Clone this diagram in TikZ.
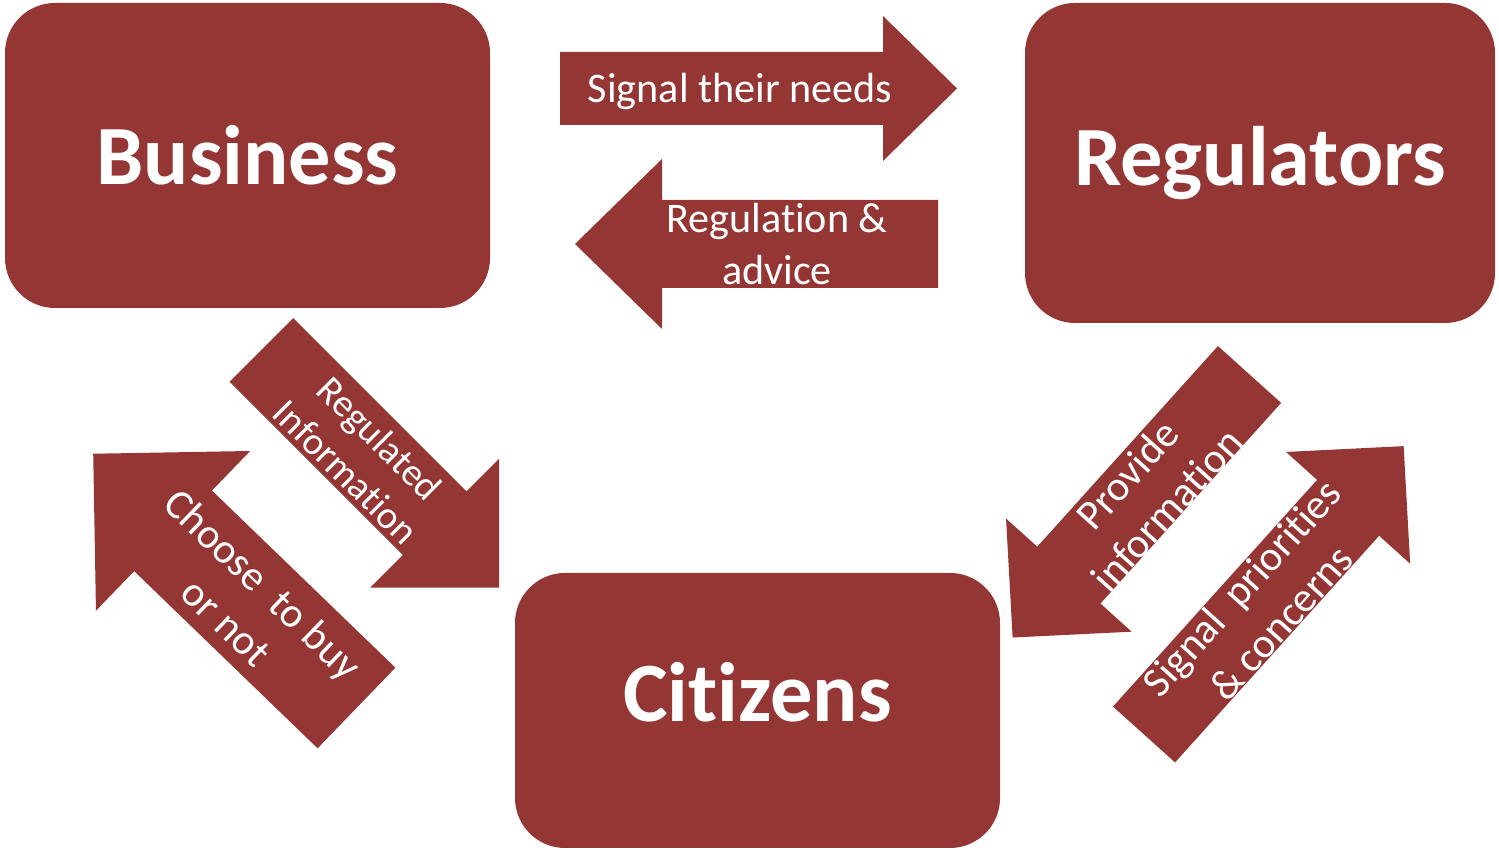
\documentclass[tikz,border=0pt]{standalone}
\usepackage{fontspec}
\setmainfont{Carlito}[Ligatures=NoCommon]

\definecolor{boxred}{HTML}{943634}

\begin{document}
\begin{tikzpicture}[
        party/.style={fill=boxred, rounded corners=0.5cm, text=white,
            font=\fontsize{24}{29}\selectfont\bfseries},
        flowtext/.style={text=white, align=center,
            font=\fontsize{12}{15}\selectfont}
    ]
    \useasboundingbox (0,0) rectangle (14.99,8.5);

    % the three parties
    \node[party, minimum width=4.85cm, minimum height=3.05cm] (business) at (2.475,6.945) {Business};
    \node[party, minimum width=4.70cm, minimum height=3.20cm] (regulators) at (12.60,6.87) {Regulators};
    \node[party, minimum width=4.85cm, minimum height=2.75cm, text depth=0.38cm] (citizens) at (7.575,1.395) {Citizens};

    % block arrows: tail x/y, direction, length, shaft width, head width, head length
    \foreach \tx/\ty/\dir/\len/\sw/\hw/\hl in {
            5.60/7.615/0/3.97/0.73/1.45/0.74,
            9.38/6.06/180/3.63/0.88/1.70/0.87,
            2.615/5.00/-45/3.36/0.90/1.82/0.91,
            3.565/1.42/136/3.66/1.12/2.22/1.11,
            12.495/4.755/228/3.54/0.85/1.69/0.84,
            11.44/1.155/48/3.88/0.835/1.67/0.83} {
        \fill[boxred, shift={(\tx,\ty)}, rotate=\dir]
            (0,-\sw/2) -- (\len-\hl,-\sw/2) -- (\len-\hl,-\hw/2) -- (\len,0)
            -- (\len-\hl,\hw/2) -- (\len-\hl,\sw/2) -- (0,\sw/2) -- cycle;
    }

    % what flows between them
    \node[flowtext] (needs) at (7.40,7.58) {Signal their needs};
    \node[flowtext] (advice) at (7.77,6.06) {Regulation \&\\advice};
    \node[flowtext, rotate=-45, font=\fontsize{11}{13.5}\selectfont] (reginfo) at (3.63,3.95) {Regulated\\Information};
    \node[flowtext, rotate=-44] (choose) at (2.45,2.47) {Choose\ \ to buy\\or not};
    \node[flowtext, rotate=48] (provide) at (11.47,3.58) {Provide\\information};
    \node[flowtext, rotate=48] (priorities) at (12.61,2.45) {Signal\ \ priorities\\\& concerns};
\end{tikzpicture}
\end{document}
